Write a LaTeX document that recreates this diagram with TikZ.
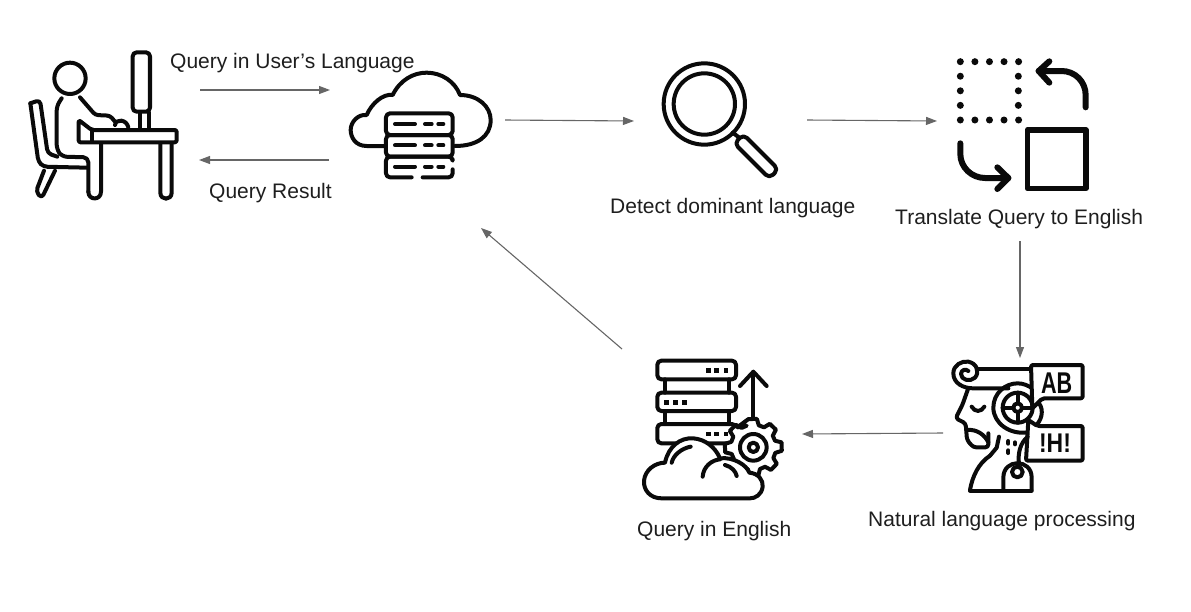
\documentclass[tikz,border=0pt]{standalone}
\usepackage{fontspec}
\usepackage{graphicx}
\setmainfont{Liberation Sans}
\usetikzlibrary{arrows.meta}
\definecolor{flowgray}{HTML}{666666}
\definecolor{inkblack}{HTML}{0A0A0A}
\definecolor{labelgray}{HTML}{1E1E1E}
\tikzset{
  flow/.style={draw=flowgray,line width=1.1pt,-{Triangle[length=11pt,width=8pt]}},
  caption/.style={text=labelgray,font=\fontsize{21}{25}\selectfont,inner sep=0pt},
  icon/.style={draw=inkblack,line width=4pt,line join=round,line cap=round},
  thick icon/.style={icon,line width=6pt},
  inzoomA/.style={shift={(20,40)},scale=1/3},
  inzoomB/.style={shift={(640,40)},scale=1/3},
  inzoomC/.style={shift={(630,350)},scale=1/3},
  inzoomD/.style={shift={(945,355)},scale=1/3}
}
\begin{document}
\begin{tikzpicture}[x=1pt,y=-1pt]
  \useasboundingbox (0,0) rectangle (1191,611);

  % person at the desk
  \begin{scope}[inzoomA]
    \draw[icon] (150,115) circle (47);
    \draw[icon,rounded corners=2pt] (176,240) -- (176,307) -- (470,307) -- (470,270) -- (215,270) -- cycle;
    \draw[icon] (216,272) -- (216,305);
    \draw[icon,rounded corners=5pt] (125,175) -- (110,198) -- (110,328) -- (126,350) -- (205,352) -- (205,455);
    \draw[icon] (205,455) .. controls (205,482) and (243,482) .. (243,455) -- (243,310);
    \draw[icon,rounded corners=3pt] (180,172) -- (226,225) -- (270,227) -- (285,245);
    \draw[icon] (285,255) .. controls (288,235) and (320,238) .. (325,262);
    \draw[icon,rounded corners=4pt] (338,37) rectangle (390,215);
    \draw[icon] (360,217) -- (360,264) (386,217) -- (386,264);
    \draw[icon] (421,310) -- (421,458) .. controls (421,482) and (455,482) .. (455,458) -- (455,310);
    \draw[icon,rounded corners=4pt] (31,190) -- (60,180) -- (83,340) -- (112,350);
    \draw[icon,rounded corners=4pt] (31,190) -- (55,365) -- (70,380) -- (200,383);
    \draw[icon,rounded corners=4pt] (72,392) -- (48,455) -- (65,475) -- (105,392);
  \end{scope}

  % cloud with servers
  \begin{scope}[inzoomA]
    \draw[icon] (1095,318) -- (1040,318) .. controls (1005,318) and (992,290) .. (992,270)
      .. controls (992,245) and (1015,222) .. (1040,225)
      .. controls (1055,190) and (1090,160) .. (1118,165)
      .. controls (1140,120) and (1180,98) .. (1220,98)
      .. controls (1265,98) and (1305,125) .. (1320,165)
      .. controls (1375,165) and (1412,200) .. (1412,240)
      .. controls (1412,290) and (1370,318) .. (1305,318);
    \foreach \ya/\yb in {220/285,285/350} {
      \draw[icon,rounded corners=4pt] (1098,\ya) rectangle (1298,\yb);
    }
    \draw[icon,rounded corners=4pt] (1175,412) -- (1098,412) -- (1098,350) -- (1298,350) -- (1298,358);
    \draw[icon,rounded corners=4pt] (1208,412) -- (1298,412) -- (1298,388);
    \foreach \yc in {252,316,380} {
      \draw[icon] (1125,\yc) -- (1185,\yc) (1215,\yc) -- (1235,\yc) (1255,\yc) -- (1270,\yc);
    }
  \end{scope}

  % magnifier
  \begin{scope}[inzoomB]
    \draw[icon] (193,192) circle (122);
    \draw[icon] (193,192) circle (92);
    \draw[icon] (278,278) -- (298,293);
    \draw[icon,rounded corners=5pt] (310,283) -- (415,388) -- (388,415) -- (283,310) -- cycle;
  \end{scope}

  % swap squares
  \begin{scope}[inzoomB]
    \foreach \xd in {0,1,2,3,4} {
      \fill[inkblack] (961+\xd*43.7,65) circle (10.5);
      \fill[inkblack] (961+\xd*43.7,240) circle (10.5);
    }
    \foreach \yd in {1,2,3} {
      \fill[inkblack] (961,65+\yd*43.7) circle (10.5);
      \fill[inkblack] (1135,65+\yd*43.7) circle (10.5);
    }
    \draw[thick icon] (1337,202) -- (1337,165) .. controls (1337,125) and (1305,93) .. (1265,93) -- (1196,93);
    \draw[thick icon] (1228,64) -- (1196,93) -- (1228,128);
    \draw[icon,line width=5.5pt] (1162,270) rectangle (1338,445);
    \draw[thick icon] (961,310) -- (961,342) .. controls (961,382) and (995,414) .. (1035,414) -- (1105,414);
    \draw[thick icon] (1072,382) -- (1105,414) -- (1072,447);
  \end{scope}

  % head with speech boxes
  \begin{scope}[inzoomD]
    \draw[icon] (95,42) -- (260,42);
    \draw[icon] (190,100) -- (85,100) .. controls (55,100) and (25,85) .. (25,55)
      .. controls (25,30) and (50,17) .. (70,20)
      .. controls (95,25) and (105,50) .. (90,68)
      .. controls (75,82) and (48,75) .. (48,57)
      .. controls (48,45) and (62,40) .. (70,48);
    \draw[icon] (248,232) .. controls (195,240) and (145,205) .. (145,158)
      .. controls (145,115) and (180,85) .. (218,85) .. controls (235,85) and (250,92) .. (262,100);
    \draw[icon] (218,158) circle (45);
    \draw[icon] (218,158) circle (13);
    \draw[icon] (218,113) -- (218,145) (218,171) -- (218,203) (173,158) -- (205,158) (231,158) -- (263,158);
    \draw[icon] (282,145) .. controls (298,165) and (290,200) .. (268,215);
    \draw[icon,fill=white,rounded corners=2pt] (258,30) -- (413,30) -- (413,130) -- (292,130) -- (262,160) -- cycle;
    \node[inner sep=0pt,text=inkblack,font=\bfseries\fontsize{30}{30}\selectfont] (abmark) at (335,85) {\scalebox{0.72}[1]{AB}};
    \draw[icon,fill=white,rounded corners=2pt] (250,195) -- (277,213) -- (413,213) -- (413,317) -- (243,317) -- cycle;
    \node[inner sep=0pt,text=inkblack,font=\bfseries\fontsize{27}{27}\selectfont] (hmark) at (330,265) {\scalebox{0.85}[1]{!H!}};
    \draw[icon,rounded corners=3pt] (68,105) -- (52,150) -- (32,190) -- (62,205) -- (66,255) -- (85,277) -- (130,277) -- (130,235);
    \draw[icon] (80,155) .. controls (90,172) and (108,172) .. (118,155);
    \draw[icon] (68,225) .. controls (95,222) and (120,240) .. (130,262);
    \draw[icon] (162,245) -- (155,278) -- (135,302);
    \draw[icon] (135,302) .. controls (100,325) and (82,365) .. (75,405);
    \draw[icon] (75,407) -- (260,407);
    \draw[icon] (248,245) .. controls (225,265) and (218,295) .. (222,328);
    \draw[icon] (175,405) -- (175,368) .. controls (175,310) and (260,310) .. (260,368) -- (260,405);
    \draw[icon] (217,351) circle (16);
    \draw[icon] (190,258) -- (190,266) (190,286) -- (190,294) (210,262) -- (210,268);
  \end{scope}

  % servers with gear and cloud
  \begin{scope}[inzoomC]
    \foreach \ya/\yb in {32/88,128/183,222/280} {
      \draw[icon,rounded corners=4pt] (82,\ya) rectangle (318,\yb);
    }
    \draw[icon] (104,88) -- (104,128) (298,88) -- (298,128) (104,183) -- (104,222) (298,183) -- (298,222);
    \foreach \xs/\ys in {235/62,260/62,288/62,110/157,137/157,163/157,235/252,260/252,288/252} {
      \fill[inkblack] (\xs-7,\ys-7) rectangle (\xs+7,\ys+7);
    }
    \draw[icon] (370,205) -- (370,68);
    \draw[icon] (330,108) -- (370,65) -- (410,108);
    \draw[icon,fill=white] (322,232)
      \foreach \ang in {-100,-55,-10,35,80,125,170,215} {
        -- ({370+86*cos(\ang)},{292+86*sin(\ang)}) -- ({370+86*cos(\ang+17)},{292+86*sin(\ang+17)})
        -- ({370+68*cos(\ang+24)},{292+68*sin(\ang+24)}) -- ({370+68*cos(\ang+38)},{292+68*sin(\ang+38)})
      } -- cycle;
    \draw[icon] (370,292) circle (40);
    \draw[icon] (370,292) circle (14);
    \draw[icon,fill=white] (95,445) .. controls (60,445) and (40,420) .. (42,392)
      .. controls (45,360) and (75,338) .. (105,338)
      .. controls (115,290) and (150,262) .. (190,265)
      .. controls (225,268) and (255,290) .. (270,325)
      .. controls (310,320) and (350,345) .. (358,368)
      .. controls (385,370) and (400,390) .. (398,410)
      .. controls (395,435) and (375,445) .. (360,445) -- cycle;
    \draw[icon] (125,338) .. controls (130,315) and (155,295) .. (182,290);
    \draw[icon] (218,380) .. controls (220,350) and (245,330) .. (270,328);
    \draw[icon] (285,345) .. controls (305,350) and (318,365) .. (320,378);
  \end{scope}

  % labels
  \node[caption,anchor=west] (userquery) at (170,63) {Query in User’s Language};
  \node[caption,anchor=west] (queryresult) at (209,193) {Query Result};
  \node[caption,anchor=west] (detect) at (610,208) {Detect dominant language};
  \node[caption,anchor=west] (translate) at (895,219) {Translate Query to English};
  \node[caption,anchor=west] (nlp) at (868,521) {Natural language processing};
  \node[caption,anchor=west] (english) at (637,531) {Query in English};

  % connector ends
  \coordinate (userout) at (200,90);
  \coordinate (cloudin) at (330,90);
  \coordinate (cloudback) at (329,160);
  \coordinate (userin) at (199,160);
  \coordinate (cloudout) at (505,120);
  \coordinate (lensin) at (634,121);
  \coordinate (lensout) at (807,120);
  \coordinate (swapin) at (937,121);
  \coordinate (swapout) at (1020,241);
  \coordinate (headin) at (1020,358);
  \coordinate (headout) at (943,433);
  \coordinate (stackin) at (802,434);
  \coordinate (stackout) at (622,349);
  \coordinate (cloudreturn) at (481,228);

  \draw[flow] (userout) -- (cloudin);
  \draw[flow] (cloudback) -- (userin);
  \draw[flow] (cloudout) -- (lensin);
  \draw[flow] (lensout) -- (swapin);
  \draw[flow] (swapout) -- (headin);
  \draw[flow] (headout) -- (stackin);
  \draw[flow] (stackout) -- (cloudreturn);
\end{tikzpicture}
\end{document}
